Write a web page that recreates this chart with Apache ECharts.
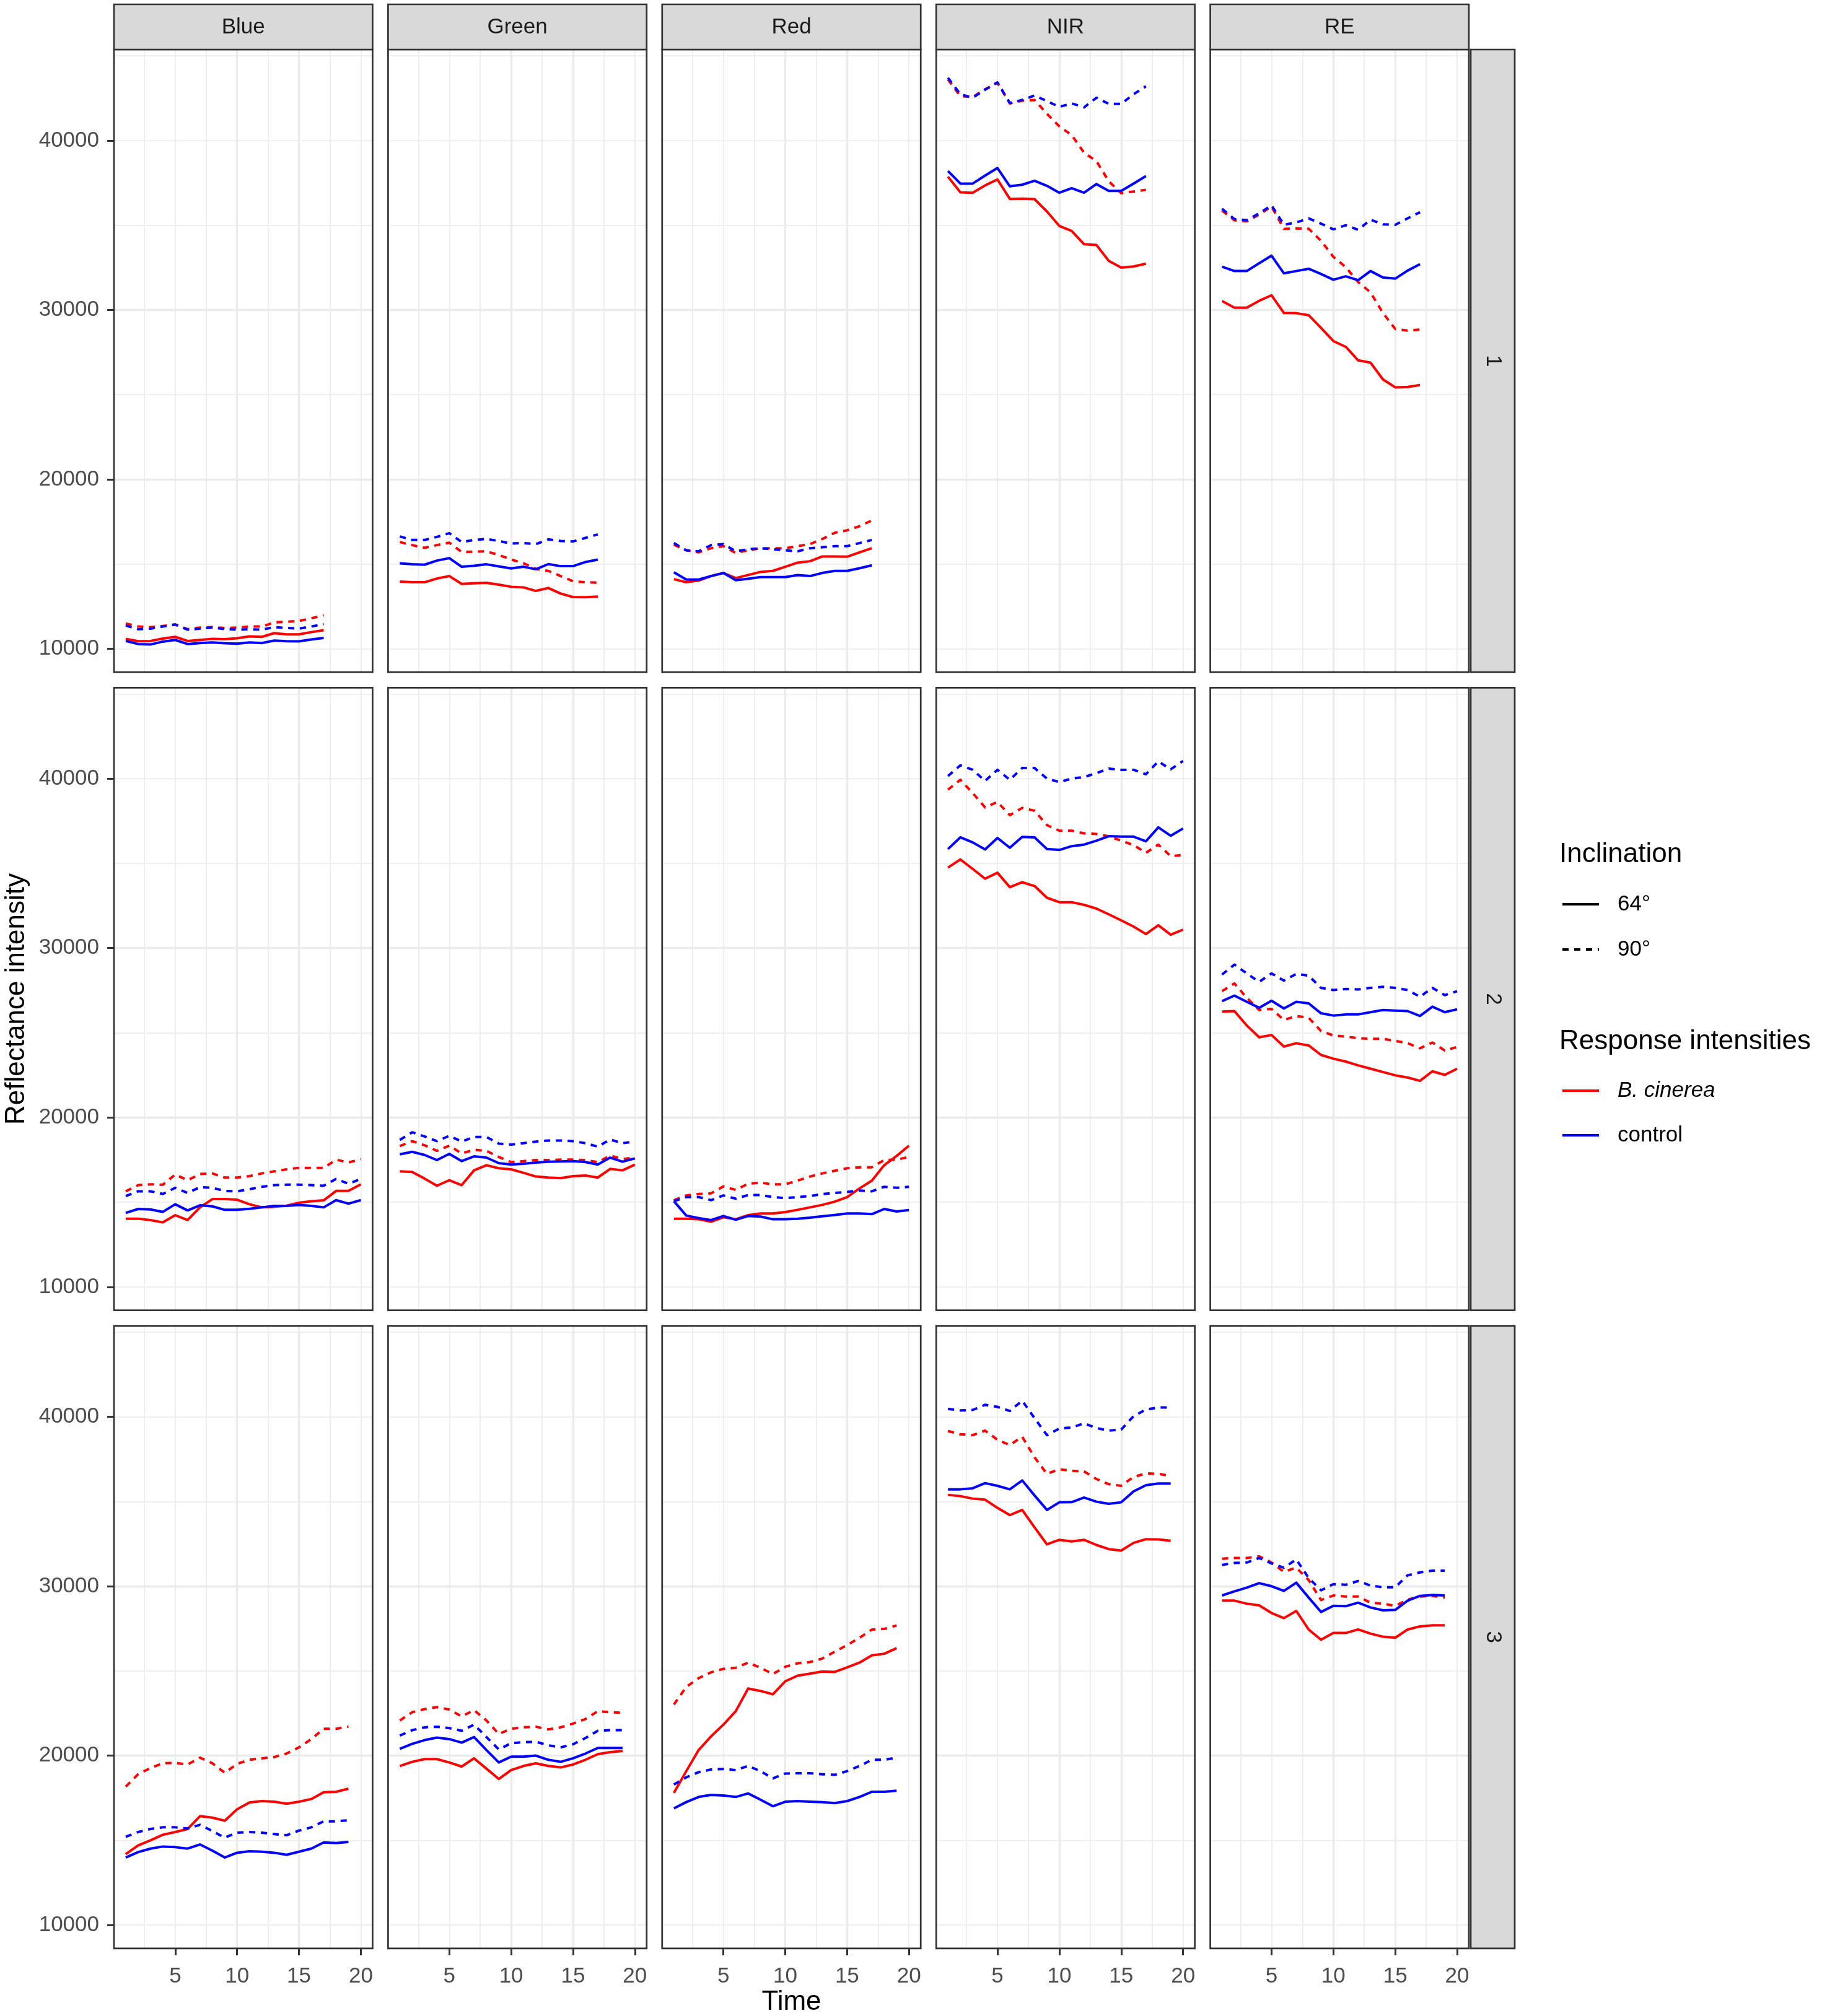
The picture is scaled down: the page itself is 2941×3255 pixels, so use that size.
<!DOCTYPE html>
<html><head><meta charset="utf-8">
<script src="https://cdn.jsdelivr.net/npm/echarts@6/dist/echarts.min.js"></script>
<style>html,body{margin:0;padding:0;background:#fff}#c{width:2941px;height:3255px}</style>
</head><body><div id="c"></div>
<script>
// ---------- categories / ticks ----------
const bands = ['Blue', 'Green', 'Red', 'NIR', 'RE'];
const rowsLab = ['1', '2', '3'];
const time = [1,2,3,4,5,6,7,8,9,10,11,12,13,14,15,16,17,18,19,20];
const xTicks = [5, 10, 15, 20];
const yTicks = [10000, 20000, 30000, 40000];
const groupNames = ['B. cinerea 64°', 'B. cinerea 90°', 'control 64°', 'control 90°'];

// ---------- row 1 ----------
const Blue_1_cin64 = [10584,10450,10462,10608,10706,10462,10523,10584,10572,10620,10730,10706,10925,10852,10852,10985,11095];
const Blue_1_cin90 = [11496,11314,11277,11350,11435,11156,11253,11277,11229,11253,11314,11314,11557,11594,11642,11800,11983];
const Blue_1_ctl64 = [10462,10280,10255,10426,10523,10280,10340,10377,10328,10304,10377,10340,10487,10450,10438,10547,10645];
const Blue_1_ctl90 = [11375,11156,11192,11314,11435,11131,11192,11253,11168,11131,11156,11131,11277,11229,11192,11314,11460];

const Green_1_cin64 = [13966,13929,13929,14148,14294,13832,13869,13893,13783,13662,13625,13418,13589,13260,13054,13041,13078];
const Green_1_cin90 = [16302,16119,15961,16119,16265,15718,15730,15755,15535,15268,15049,14720,14599,14294,13990,13929,13905];
const Green_1_ctl64 = [15049,14988,14964,15207,15353,14842,14903,14988,14866,14745,14842,14696,15000,14878,14878,15122,15268];
const Green_1_ctl90 = [16630,16423,16423,16606,16825,16302,16423,16484,16363,16217,16241,16180,16460,16363,16338,16545,16752];

const Red_1_cin64 = [14112,13929,14027,14294,14477,14173,14355,14538,14599,14842,15085,15170,15450,15450,15438,15693,15937];
const Red_1_cin90 = [16144,15815,15693,15937,16058,15657,15815,15937,15937,15937,16058,16180,16484,16849,16995,17238,17579];
const Red_1_ctl64 = [14513,14088,14088,14294,14477,14051,14136,14234,14234,14234,14355,14294,14477,14599,14599,14757,14927];
const Red_1_ctl90 = [16241,15815,15754,16119,16180,15754,15876,15937,15876,15815,15754,15937,15997,16058,16058,16241,16423];

const NIR_1_cin64 = [37865,36946,36919,37351,37703,36554,36568,36541,35811,34959,34662,33878,33838,32892,32500,32568,32730];
const NIR_1_cin90 = [43608,42622,42568,43027,43405,42189,42351,42392,41581,40838,40324,39284,38784,37595,36892,36986,37095];
const NIR_1_ctl64 = [38203,37459,37459,37932,38378,37297,37392,37622,37324,36919,37189,36919,37432,37027,37027,37459,37905];
const NIR_1_ctl90 = [43703,42730,42527,43000,43432,42216,42392,42662,42324,41986,42189,41959,42527,42162,42162,42730,43203];

const RE_1_cin64 = [30527,30135,30135,30541,30865,29824,29811,29689,28946,28162,27824,27027,26892,25905,25432,25459,25568];
const RE_1_cin90 = [35865,35297,35230,35635,36108,34784,34811,34797,34081,33135,32527,31649,31041,29824,28878,28784,28838];
const RE_1_ctl64 = [32554,32297,32297,32757,33203,32162,32297,32432,32122,31784,31986,31757,32297,31919,31851,32324,32703];
const RE_1_ctl90 = [35973,35365,35297,35703,36176,35027,35162,35405,35095,34757,35000,34730,35324,35054,35027,35405,35770];

// ---------- row 2 ----------
const Blue_2_cin64 = [14029,14029,13944,13811,14235,13944,14697,15182,15182,15146,14879,14697,14733,14794,14964,15061,15109,15667,15667,16056];
const Blue_2_cin90 = [15643,16007,16056,16032,16638,16299,16663,16699,16456,16456,16541,16699,16820,16942,17027,17027,17027,17512,17342,17549];
const Blue_2_ctl64 = [14369,14600,14575,14430,14879,14515,14818,14757,14551,14551,14612,14697,14782,14782,14842,14782,14697,15121,14915,15121];
const Blue_2_ctl90 = [15364,15643,15643,15485,15850,15546,15886,15850,15667,15643,15765,15910,16007,16032,16032,16007,15971,16371,16092,16371];

const Green_2_cin64 = [16820,16784,16396,15971,16299,16007,16881,17184,17002,16942,16735,16517,16456,16420,16541,16578,16456,16966,16881,17221];
const Green_2_cin90 = [18313,18604,18362,18034,18337,17876,18095,18034,17670,17367,17427,17488,17488,17512,17512,17488,17367,17755,17549,17633];
const Green_2_ctl64 = [17828,17973,17791,17488,17852,17427,17706,17633,17306,17221,17269,17342,17391,17403,17427,17367,17221,17633,17391,17585];
const Green_2_ctl90 = [18677,19126,18883,18604,18920,18580,18847,18847,18459,18398,18483,18580,18641,18641,18604,18483,18277,18701,18483,18580];

const Red_2_cin64 = [14029,14029,13993,13847,14114,13993,14235,14333,14333,14417,14551,14697,14842,15036,15303,15813,16274,17184,17731,18337];
const Red_2_cin90 = [15121,15400,15485,15522,15934,15728,16092,16153,16056,16056,16274,16517,16699,16857,17002,17063,17063,17488,17512,17670];
const Red_2_ctl64 = [15061,14211,14066,13944,14187,13968,14187,14150,13993,13993,14029,14090,14175,14248,14333,14333,14296,14600,14454,14539];
const Red_2_ctl90 = [15061,15303,15303,15121,15400,15206,15425,15425,15303,15243,15303,15364,15485,15546,15607,15692,15643,15910,15850,15910];

const NIR_2_cin64 = [34747,35231,34669,34094,34447,33597,33885,33663,32970,32709,32709,32552,32330,31990,31637,31271,30827,31350,30788,31088];
const NIR_2_cin90 = [39347,39935,39151,38301,38628,37844,38275,38105,37256,36929,36929,36773,36733,36603,36341,36080,35623,36106,35427,35492];
const NIR_2_ctl64 = [35845,36537,36237,35819,36498,35923,36563,36537,35845,35792,36015,36106,36341,36603,36577,36577,36302,37125,36629,37060];
const NIR_2_ctl90 = [40157,40784,40523,39869,40523,39935,40627,40627,40000,39804,40000,40091,40327,40588,40523,40523,40261,41019,40549,41045];

const RE_2_cin64 = [26254,26280,25430,24738,24869,24189,24385,24254,23693,23471,23301,23079,22882,22686,22490,22360,22164,22726,22516,22882];
const RE_2_cin90 = [27456,27913,27064,26345,26411,25757,25992,25888,25104,24842,24777,24686,24647,24647,24516,24386,24085,24425,23954,24163];
const RE_2_ctl64 = [26868,27195,26829,26476,26894,26437,26829,26737,26149,26019,26084,26084,26215,26345,26306,26280,25992,26541,26215,26385];
const RE_2_ctl90 = [28436,29024,28501,28005,28501,28083,28475,28371,27652,27521,27587,27561,27652,27717,27652,27521,27129,27652,27221,27456];

// ---------- row 3 ----------
const Blue_3_cin64 = [14183,14695,15000,15329,15488,15671,16427,16341,16159,16829,17232,17317,17280,17159,17280,17439,17841,17866,18049];
const Blue_3_cin90 = [18171,18902,19268,19549,19573,19476,19878,19549,18988,19512,19756,19841,19915,20122,20488,20976,21585,21585,21707];
const Blue_3_ctl64 = [13988,14305,14512,14634,14598,14512,14756,14390,13988,14268,14354,14329,14268,14146,14329,14512,14878,14841,14902];
const Blue_3_ctl90 = [15207,15488,15671,15768,15768,15695,15915,15549,15159,15451,15488,15451,15366,15305,15573,15768,16122,16122,16183];

const Green_3_cin64 = [19390,19634,19793,19793,19598,19354,19841,19232,18622,19146,19390,19549,19390,19305,19476,19756,20085,20207,20280];
const Green_3_cin90 = [22073,22561,22744,22866,22720,22317,22683,22073,21280,21585,21671,21707,21549,21671,21890,22159,22622,22561,22524];
const Green_3_ctl64 = [20402,20695,20915,21061,20976,20768,21098,20329,19598,19939,19939,20000,19756,19634,19841,20122,20451,20451,20451];
const Green_3_ctl90 = [21183,21500,21671,21707,21622,21463,21829,21098,20366,20732,20793,20817,20610,20488,20671,21037,21463,21500,21500];

const Red_3_cin64 = [17805,19085,20329,21134,21829,22622,23963,23817,23622,24390,24720,24841,24963,24939,25207,25488,25915,26012,26341];
const Red_3_cin90 = [23012,24061,24573,24915,25122,25183,25488,25183,24817,25244,25451,25524,25732,26134,26524,26951,27439,27476,27683];
const Red_3_ctl64 = [16890,17256,17561,17683,17646,17561,17768,17402,17012,17280,17317,17280,17256,17195,17317,17561,17866,17866,17927];
const Red_3_ctl90 = [18293,18720,19024,19183,19207,19146,19390,19085,18659,18939,18963,18963,18902,18866,19085,19390,19756,19756,19878];

const NIR_3_cin64 = [35389,35316,35170,35109,34623,34197,34501,33467,32470,32737,32640,32737,32433,32190,32105,32555,32774,32762,32676];
const NIR_3_cin90 = [39161,38966,38917,39185,38637,38333,38820,37603,36630,36898,36813,36776,36326,36022,35925,36448,36655,36630,36509];
const NIR_3_ctl64 = [35718,35718,35779,36083,35925,35718,36241,35353,34501,34951,34964,35231,34988,34866,34951,35596,35961,36058,36058];
const NIR_3_ctl90 = [40462,40377,40401,40706,40584,40341,40949,39915,38917,39307,39367,39611,39331,39185,39246,40036,40426,40547,40547];

const RE_3_cin64 = [29148,29148,28966,28869,28418,28114,28540,27445,26837,27238,27238,27445,27202,27019,26959,27445,27628,27689,27689];
const RE_3_cin90 = [31618,31667,31667,31764,31399,30852,31095,30365,29185,29453,29392,29392,29027,28966,28844,29209,29392,29428,29331];
const RE_3_ctl64 = [29453,29696,29915,30182,30000,29720,30207,29331,28479,28844,28820,29027,28747,28577,28601,29148,29428,29477,29453];
const RE_3_ctl90 = [31253,31375,31399,31667,31338,31095,31582,30487,29757,30122,30085,30304,30036,29939,29939,30645,30815,30912,30912];

// table built from the arrays above
const PANELS = {
  '1': {Blue:[Blue_1_cin64,Blue_1_cin90,Blue_1_ctl64,Blue_1_ctl90], Green:[Green_1_cin64,Green_1_cin90,Green_1_ctl64,Green_1_ctl90], Red:[Red_1_cin64,Red_1_cin90,Red_1_ctl64,Red_1_ctl90], NIR:[NIR_1_cin64,NIR_1_cin90,NIR_1_ctl64,NIR_1_ctl90], RE:[RE_1_cin64,RE_1_cin90,RE_1_ctl64,RE_1_ctl90]},
  '2': {Blue:[Blue_2_cin64,Blue_2_cin90,Blue_2_ctl64,Blue_2_ctl90], Green:[Green_2_cin64,Green_2_cin90,Green_2_ctl64,Green_2_ctl90], Red:[Red_2_cin64,Red_2_cin90,Red_2_ctl64,Red_2_ctl90], NIR:[NIR_2_cin64,NIR_2_cin90,NIR_2_ctl64,NIR_2_ctl90], RE:[RE_2_cin64,RE_2_cin90,RE_2_ctl64,RE_2_ctl90]},
  '3': {Blue:[Blue_3_cin64,Blue_3_cin90,Blue_3_ctl64,Blue_3_ctl90], Green:[Green_3_cin64,Green_3_cin90,Green_3_ctl64,Green_3_ctl90], Red:[Red_3_cin64,Red_3_cin90,Red_3_ctl64,Red_3_ctl90], NIR:[NIR_3_cin64,NIR_3_cin90,NIR_3_ctl64,NIR_3_ctl90], RE:[RE_3_cin64,RE_3_cin90,RE_3_ctl64,RE_3_ctl90]}
};

// ---------- style / layout ----------
const FONT = '"Liberation Sans", Arial, sans-serif';
const RED = '#FF0000', BLUE = '#0000FF';
const groupColor = [RED, RED, BLUE, BLUE];
const DASH = [10, 9];
const groupDash = ['solid', DASH, 'solid', DASH];
const X_MIN = 0.05, X_MAX = 20.95, Y_MIN = 8620, Y_MAX = 45370;
const L0 = 184, PW = 417.4, GX = 25, T0 = 80, PH = 1005.3, GY = 25;
const BORDER = '#333333', BW = 2.7;
const GRID = '#EBEBEB';

const grids = [], xAxes = [], yAxes = [], series = [], graphics = [];

rowsLab.forEach((r, ri) => bands.forEach((b, ci) => {
  const g = ri * 5 + ci;
  const left = L0 + ci * (PW + GX), top = T0 + ri * (PH + GY);
  const bottomRow = ri === 2, leftCol = ci === 0;
  grids.push({left: left, top: top, width: PW, height: PH, show: false});

  xAxes.push({
    type: 'value', gridIndex: g, position: 'bottom', min: X_MIN, max: X_MAX, splitNumber: 4,
    axisLine: {show: false},
    axisTick: {show: bottomRow, customValues: xTicks, length: 11, lineStyle: {color: BORDER, width: 3}},
    axisLabel: {show: bottomRow, customValues: xTicks, margin: 28, fontSize: 35, fontFamily: FONT, color: '#4D4D4D',
      formatter: v => xTicks.includes(v) ? String(v) : ''},
    splitLine: {show: true, showMinLine: false, showMaxLine: false, lineStyle: {color: GRID, width: 3.3}}
  });
  // hidden helper axis (half units) for the minor grid lines at 2.5, 7.5, ...
  xAxes.push({
    type: 'value', gridIndex: g, position: 'top', min: X_MIN * 2, max: X_MAX * 2, splitNumber: 8,
    axisLine: {show: false}, axisTick: {show: false}, axisLabel: {show: false},
    splitLine: {show: true, showMinLine: false, showMaxLine: false, lineStyle: {color: GRID, width: 1.7}}
  });
  yAxes.push({
    type: 'value', gridIndex: g, position: 'left', min: Y_MIN, max: Y_MAX, splitNumber: 4,
    axisLine: {show: false},
    axisTick: {show: leftCol, customValues: yTicks, length: 11, lineStyle: {color: BORDER, width: 3}},
    axisLabel: {show: leftCol, customValues: yTicks, margin: 24, fontSize: 35, fontFamily: FONT, color: '#4D4D4D',
      formatter: v => yTicks.includes(v) ? String(v) : ''},
    splitLine: {show: true, showMinLine: false, showMaxLine: false, lineStyle: {color: GRID, width: 3.3}}
  });
  yAxes.push({
    type: 'value', gridIndex: g, position: 'right', min: Y_MIN, max: Y_MAX, splitNumber: 8,
    axisLine: {show: false}, axisTick: {show: false}, axisLabel: {show: false},
    splitLine: {show: true, showMinLine: false, showMaxLine: false, lineStyle: {color: GRID, width: 1.7}}
  });

  PANELS[r][b].forEach((arr, k) => {
    series.push({
      type: 'line', name: groupNames[k], xAxisIndex: 2 * g, yAxisIndex: 2 * g,
      data: arr.map((v, i) => [time[i], v]),
      showSymbol: false, symbol: 'none', silent: true, z: 3 + k,
      lineStyle: {color: groupColor[k], width: 4, type: groupDash[k], cap: 'butt', join: 'round'}
    });
  });

  // panel border
  graphics.push({type: 'rect', z: 100, shape: {x: left, y: top, width: PW, height: PH},
    style: {fill: 'none', stroke: BORDER, lineWidth: BW}});
  // top strips
  if (ri === 0) {
    graphics.push({type: 'rect', z: 100, shape: {x: left, y: 7, width: PW, height: T0 - 7},
      style: {fill: '#D9D9D9', stroke: BORDER, lineWidth: BW}});
    graphics.push({type: 'text', z: 101, x: left + PW / 2, y: 44,
      style: {text: b, fill: '#1A1A1A', fontSize: 35, fontFamily: FONT, align: 'center', verticalAlign: 'middle', textAlign: 'center', textVerticalAlign: 'middle'}});
  }
  // right strips
  if (ci === 4) {
    const sx = left + PW + 3, sw = 71;
    graphics.push({type: 'rect', z: 100, shape: {x: sx, y: top, width: sw, height: PH},
      style: {fill: '#D9D9D9', stroke: BORDER, lineWidth: BW}});
    graphics.push({type: 'text', z: 101, x: sx + sw / 2, y: top + PH / 2, rotation: -Math.PI / 2,
      style: {text: r, fill: '#1A1A1A', fontSize: 35, fontFamily: FONT, align: 'center', verticalAlign: 'middle', textAlign: 'center', textVerticalAlign: 'middle'}});
  }
}));

// axis titles
const panelsRight = L0 + 5 * PW + 4 * GX;
const panelsBottom = T0 + 3 * PH + 2 * GY;
graphics.push({type: 'text', z: 101, x: (L0 + panelsRight) / 2, y: 3233,
  style: {text: 'Time', fill: '#000', fontSize: 44, fontFamily: FONT, align: 'center', verticalAlign: 'middle', textAlign: 'center', textVerticalAlign: 'middle'}});
graphics.push({type: 'text', z: 101, x: 27, y: (T0 + panelsBottom) / 2, rotation: Math.PI / 2,
  style: {text: 'Reflectance intensity', fill: '#000', fontSize: 44, fontFamily: FONT, align: 'center', verticalAlign: 'middle', textAlign: 'center', textVerticalAlign: 'middle'}});

// legends
const LX = 2517, KX1 = 2522, KX2 = 2581, TX = 2611;
function legTitle(t, y) {
  graphics.push({type: 'text', z: 101, x: LX, y: y,
    style: {text: t, fill: '#000', fontSize: 44, fontFamily: FONT, align: 'left', verticalAlign: 'middle', textAlign: 'left', textVerticalAlign: 'middle'}});
}
function legItem(t, y, color, dash, italic) {
  graphics.push({type: 'line', z: 101, shape: {x1: KX1, y1: y, x2: KX2, y2: y},
    style: {stroke: color, lineWidth: 4, lineDash: dash, lineCap: 'butt'}});
  graphics.push({type: 'text', z: 101, x: TX, y: y,
    style: {text: t, fill: '#000', fontSize: 35, fontFamily: FONT, fontStyle: italic ? 'italic' : 'normal',
      align: 'left', verticalAlign: 'middle', textAlign: 'left', textVerticalAlign: 'middle'}});
}
legTitle('Inclination', 1380);
legItem('64°', 1460, '#000', null, false);
legItem('90°', 1533, '#000', DASH, false);
legTitle('Response intensities', 1682);
legItem('B. cinerea', 1761, RED, null, true);
legItem('control', 1833, BLUE, null, false);

const chart = echarts.init(document.getElementById('c'), null, {renderer: 'canvas'});
chart.setOption({
  animation: false,
  backgroundColor: '#ffffff',
  grid: grids, xAxis: xAxes, yAxis: yAxes, series: series, graphic: graphics
});
</script></body></html>
